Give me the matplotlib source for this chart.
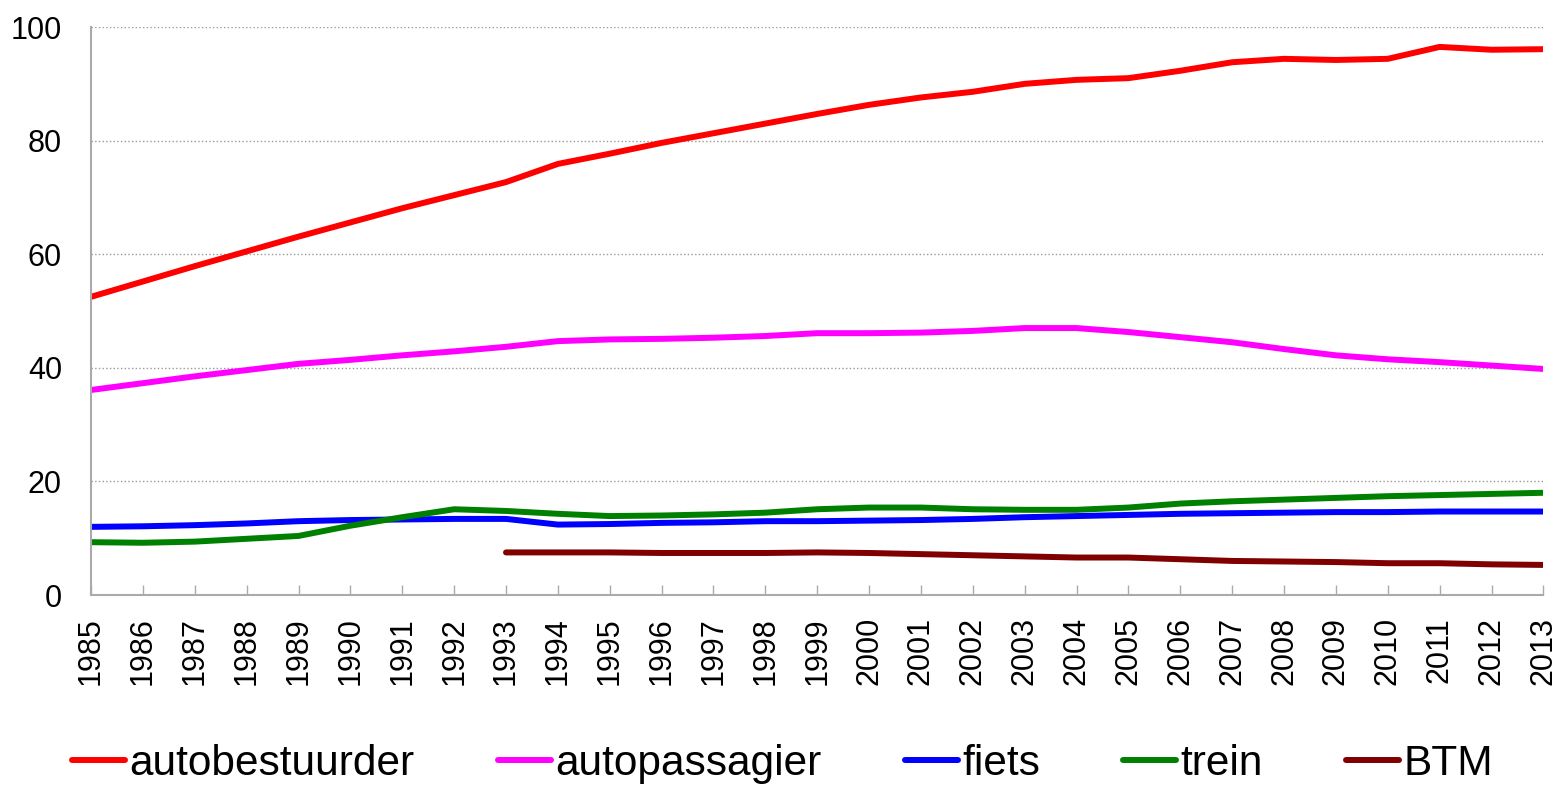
import matplotlib
matplotlib.use('Agg')
import matplotlib.pyplot as plt
import numpy as np

plt.rcParams['font.family'] = ['Liberation Sans', 'DejaVu Sans']

# years on the x axis
years = list(range(1985, 2014))

# series values (index)
autobestuurder = [52.5, 55.2, 57.9, 60.5, 63.1, 65.6, 68.1, 70.4, 72.7, 75.9,
                  77.7, 79.6, 81.3, 83.0, 84.7, 86.3, 87.6, 88.6, 90.0, 90.7,
                  91.0, 92.3, 93.8, 94.4, 94.2, 94.4, 96.5, 96.0, 96.1]
autopassagier = [36.1, 37.3, 38.5, 39.6, 40.7, 41.4, 42.2, 42.9, 43.7, 44.7,
                 45.0, 45.1, 45.3, 45.6, 46.1, 46.1, 46.2, 46.5, 47.0, 47.0,
                 46.3, 45.4, 44.5, 43.3, 42.2, 41.5, 41.0, 40.4, 39.8]
fiets = [12.0, 12.1, 12.3, 12.6, 13.0, 13.2, 13.3, 13.4, 13.4, 12.4,
         12.5, 12.7, 12.8, 13.0, 13.0, 13.1, 13.2, 13.4, 13.7, 13.9,
         14.1, 14.3, 14.4, 14.5, 14.6, 14.6, 14.7, 14.7, 14.7]
trein = [9.3, 9.2, 9.4, 9.9, 10.4, 12.2, 13.7, 15.1, 14.8, 14.3,
         13.9, 14.0, 14.2, 14.5, 15.1, 15.4, 15.4, 15.1, 15.0, 15.0,
         15.4, 16.1, 16.5, 16.8, 17.1, 17.4, 17.6, 17.8, 18.0]
# BTM only from 1993 on
btm_years = list(range(1993, 2014))
btm = [7.5, 7.5, 7.5, 7.4, 7.4, 7.4, 7.5, 7.4, 7.2, 7.0, 6.8,
       6.6, 6.6, 6.3, 6.0, 5.9, 5.8, 5.6, 5.6, 5.4, 5.3]

yticks = [0, 20, 40, 60, 80, 100]

fig = plt.figure(figsize=(15.59, 7.88), dpi=100)
ax = fig.add_axes([0.0584, 0.2449, 0.9316, 0.7208])

lw = 4.3
ax.plot(years, autobestuurder, color='#ff0000', lw=lw, label='autobestuurder',
        solid_capstyle='round')
ax.plot(years, autopassagier, color='#ff00ff', lw=lw, label='autopassagier',
        solid_capstyle='round')
ax.plot(years, fiets, color='#0000ff', lw=lw, label='fiets',
        solid_capstyle='round')
ax.plot(years, trein, color='#008000', lw=lw, label='trein',
        solid_capstyle='round')
ax.plot(btm_years, btm, color='#800000', lw=lw, label='BTM',
        solid_capstyle='round')

ax.set_xlim(1985, 2013)
ax.set_ylim(0, 100)
ax.set_xticks(years)
ax.set_xticklabels([str(y) for y in years], rotation=90, fontsize=22)
ax.set_yticks(yticks)
ax.set_yticklabels([str(v) for v in yticks], fontsize=22)

ax.yaxis.grid(True, color='#999999', linestyle=':', linewidth=1)
ax.set_axisbelow(True)

for side in ('top', 'right'):
    ax.spines[side].set_visible(False)
for side in ('left', 'bottom'):
    ax.spines[side].set_color('#aaaaaa')
    ax.spines[side].set_linewidth(1.5)

ax.tick_params(axis='x', direction='in', length=7, width=1, color='#aaaaaa', pad=16)
ax.tick_params(axis='y', length=0, pad=21)

fig.legend(loc='center', bbox_to_anchor=(0.502, 0.0305), ncol=5, frameon=False,
           fontsize=30.5, handlelength=1.25, handletextpad=0.1, columnspacing=1.97,
           borderaxespad=0, borderpad=0)

fig.savefig('out.png', dpi=100)
